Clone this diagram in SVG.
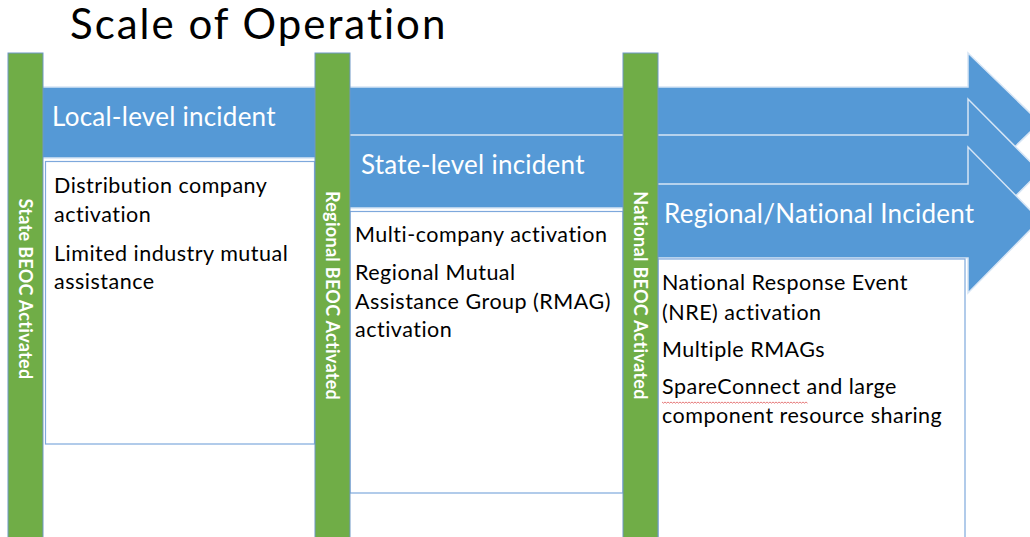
<svg xmlns="http://www.w3.org/2000/svg" width="1030" height="537" viewBox="0 0 1030 537">
<style>
.arrow{fill:#5599D6;stroke:#D6E5F5;stroke-width:1.5}
.bar{fill:#70AD47;stroke:#6E97C6;stroke-width:1}
.box{fill:#FFFFFF;stroke:#7EA8DC;stroke-width:1.2}
.lbl{font-family:Lato,"Liberation Sans",sans-serif;font-size:26px;letter-spacing:0.25px;fill:#FFFFFF}
.body{font-family:Lato,"Liberation Sans",sans-serif;font-size:21.5px;letter-spacing:0.5px;fill:#000000}
.vt{font-family:Lato,"Liberation Sans",sans-serif;font-size:18px;letter-spacing:0.3px;font-weight:bold;fill:#FFFFFF;text-anchor:middle}
.title{font-family:Lato,"Liberation Sans",sans-serif;font-size:42px;letter-spacing:2px;fill:#000000}
.spell{fill:none;stroke:#E05A5A;stroke-width:0.8}
</style>
<rect width="1030" height="537" fill="#FFFFFF"/>
<text class="title" x="70" y="39">Scale of Operation</text>

<g id="connectors">
  <path id="arrow-local" class="arrow" d="M40,87 H968 V53 L1040,122.5 L968,192 V158 H40 Z"/>
  <path id="arrow-state" class="arrow" d="M345,135 H968 V99 L1040,171.5 L968,244 V208 H345 Z"/>
  <path id="arrow-regional" class="arrow" d="M655,184 H968 V147 L1040,220 L968,293 V258 H655 Z"/>
</g>

<g id="local-incident">
  <text class="lbl" x="52" y="126">Local-level incident</text>
  <rect class="box" x="45.5" y="161.5" width="269" height="282.5"/>
  <text class="body" x="54" y="193">Distribution company</text>
  <text class="body" x="54" y="222">activation</text>
  <text class="body" x="54" y="261">Limited industry mutual</text>
  <text class="body" x="54" y="289">assistance</text>
</g>

<g id="state-incident">
  <text class="lbl" x="361" y="174">State-level incident</text>
  <rect class="box" x="350" y="211.5" width="273" height="281.5"/>
  <text class="body" x="355" y="242">Multi-company activation</text>
  <text class="body" x="355" y="280">Regional Mutual</text>
  <text class="body" x="355" y="309">Assistance Group (RMAG)</text>
  <text class="body" x="355" y="337">activation</text>
</g>

<g id="regional-incident">
  <text class="lbl" x="664" y="223">Regional/National Incident</text>
  <rect class="box" x="658" y="259" width="307" height="290"/>
  <text class="body" x="662" y="290">National Response Event</text>
  <text class="body" x="662" y="320">(NRE) activation</text>
  <text class="body" x="662" y="357">Multiple RMAGs</text>
  <text class="body" x="662" y="394">SpareConnect and large</text>
  <text class="body" x="662" y="423">component resource sharing</text>
  <path class="spell" d="M662,402 l1.5,1.2 l1.5,-1.2 l1.5,1.2 l1.5,-1.2 l1.5,1.2 l1.5,-1.2 l1.5,1.2 l1.5,-1.2 l1.5,1.2 l1.5,-1.2 l1.5,1.2 l1.5,-1.2 l1.5,1.2 l1.5,-1.2 l1.5,1.2 l1.5,-1.2 l1.5,1.2 l1.5,-1.2 l1.5,1.2 l1.5,-1.2 l1.5,1.2 l1.5,-1.2 l1.5,1.2 l1.5,-1.2 l1.5,1.2 l1.5,-1.2 l1.5,1.2 l1.5,-1.2 l1.5,1.2 l1.5,-1.2 l1.5,1.2 l1.5,-1.2 l1.5,1.2 l1.5,-1.2 l1.5,1.2 l1.5,-1.2 l1.5,1.2 l1.5,-1.2 l1.5,1.2 l1.5,-1.2 l1.5,1.2 l1.5,-1.2 l1.5,1.2 l1.5,-1.2 l1.5,1.2 l1.5,-1.2 l1.5,1.2 l1.5,-1.2 l1.5,1.2 l1.5,-1.2 l1.5,1.2 l1.5,-1.2 l1.5,1.2 l1.5,-1.2 l1.5,1.2 l1.5,-1.2 l1.5,1.2 l1.5,-1.2 l1.5,1.2 l1.5,-1.2 l1.5,1.2 l1.5,-1.2 l1.5,1.2 l1.5,-1.2 l1.5,1.2 l1.5,-1.2 l1.5,1.2 l1.5,-1.2 l1.5,1.2 l1.5,-1.2 l1.5,1.2 l1.5,-1.2 l1.5,1.2 l1.5,-1.2 l1.5,1.2 l1.5,-1.2 l1.5,1.2 l1.5,-1.2 l1.5,1.2 l1.5,-1.2 l1.5,1.2 l1.5,-1.2 l1.5,1.2 l1.5,-1.2 l1.5,1.2 l1.5,-1.2 l1.5,1.2 l1.5,-1.2 l1.5,1.2 l1.5,-1.2 l1.5,1.2 l1.5,-1.2 l1.5,1.2 l1.5,-1.2 l1.5,1.2 l1.5,-1.2 l1.5,1.2"/>
</g>

<g id="state-beoc">
  <rect class="bar" x="8" y="53" width="35" height="490"/>
  <text class="vt" transform="translate(18.5,289) rotate(90)">State BEOC Activated</text>
</g>

<g id="regional-beoc">
  <rect class="bar" x="315" y="53" width="35" height="490"/>
  <text class="vt" transform="translate(326,295.5) rotate(90)">Regional BEOC Activated</text>
</g>

<g id="national-beoc">
  <rect class="bar" x="623" y="53" width="35" height="490"/>
  <text class="vt" transform="translate(634,295.5) rotate(90)">National BEOC Activated</text>
</g>
</svg>
